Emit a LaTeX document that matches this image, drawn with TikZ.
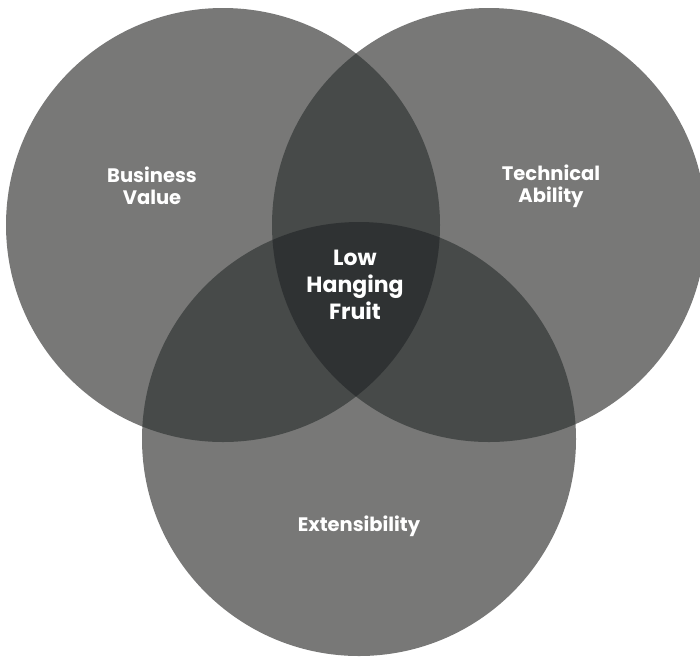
\documentclass[tikz,border=0pt]{standalone}
\usepackage{fontspec}
\setmainfont{Poppins}
\definecolor{onegray}{HTML}{787877}
\definecolor{twogray}{HTML}{474A49}
\definecolor{threegray}{HTML}{2F3233}

\tikzset{
  single/.style={fill=onegray},
  double/.style={fill=twogray},
  triple/.style={fill=threegray},
  setlabel/.style={text=white,align=center,inner sep=0pt,font=\fontsize{19.5}{22}\selectfont\bfseries},
  corelabel/.style={text=white,align=center,inner sep=0pt,font=\fontsize{22}{27}\selectfont\bfseries}
}

\begin{document}
\begin{tikzpicture}[x=1pt,y=-1pt]
    \useasboundingbox (0,0) rectangle (700,657);
    \def\rad{217pt}

    \coordinate (bv) at (223,225);
    \coordinate (ta) at (489,225);
    \coordinate (ex) at (359,439);

    % the three sets
    \fill[single] (bv) circle[radius=\rad];
    \fill[single] (ta) circle[radius=\rad];
    \fill[single] (ex) circle[radius=\rad];

    % pairwise overlaps
    \begin{scope}
        \clip (bv) circle[radius=\rad];
        \fill[double] (ta) circle[radius=\rad];
        \fill[double] (ex) circle[radius=\rad];
    \end{scope}
    \begin{scope}
        \clip (ta) circle[radius=\rad];
        \fill[double] (ex) circle[radius=\rad];
    \end{scope}

    % centre
    \begin{scope}
        \clip (bv) circle[radius=\rad];
        \clip (ta) circle[radius=\rad];
        \fill[triple] (ex) circle[radius=\rad];
    \end{scope}

    \node[setlabel] (bvlabel) at (152,186) {Business\\Value};
    \node[setlabel] (talabel) at (551,186) {Technical\\Ability};
    \node[setlabel] (exlabel) at (359,526) {Extensibility};
    \node[corelabel] (core) at (355,285) {Low\\Hanging\\Fruit};
\end{tikzpicture}
\end{document}
